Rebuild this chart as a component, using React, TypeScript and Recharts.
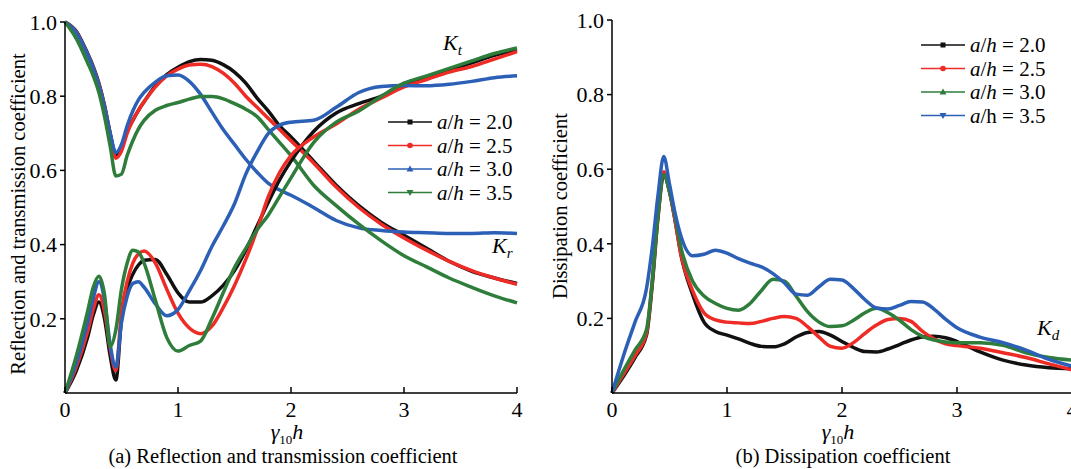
import React from "react";
import { LineChart, Line, XAxis, YAxis } from "recharts";

const FONT = '"Liberation Serif", "Times New Roman", serif';
const BLACK = "#111111";
const RED = "#ee2b25";
const BLUE = "#2c5fb6";
const GREEN = "#2e7d3b";

// (a) reflection / transmission, gamma_10 h
const X_A = [0, 0.1, 0.2, 0.25, 0.3, 0.35, 0.4, 0.45, 0.5, 0.55, 0.6, 0.65, 0.7, 0.8, 0.9, 1.0, 1.1, 1.2, 1.3, 1.4, 1.5, 1.6, 1.7, 1.8, 1.9, 2.0, 2.2, 2.4, 2.6, 2.8, 3.0, 3.2, 3.4, 3.6, 3.8, 4.0];

// curves starting from 1
const KT_20 = [1.0, 0.975, 0.915, 0.88, 0.835, 0.775, 0.7, 0.64, 0.66, 0.705, 0.735, 0.762, 0.785, 0.828, 0.858, 0.878, 0.893, 0.899, 0.897, 0.885, 0.865, 0.835, 0.795, 0.76, 0.72, 0.69, 0.625, 0.56, 0.505, 0.46, 0.425, 0.39, 0.355, 0.328, 0.31, 0.295];
const KT_25 = [1.0, 0.973, 0.912, 0.877, 0.832, 0.772, 0.695, 0.633, 0.652, 0.7, 0.735, 0.762, 0.785, 0.825, 0.855, 0.873, 0.884, 0.886, 0.88, 0.862, 0.835, 0.8, 0.77, 0.74, 0.71, 0.68, 0.62, 0.555, 0.5, 0.455, 0.418, 0.385, 0.355, 0.33, 0.31, 0.293];
const KT_30 = [1.0, 0.972, 0.912, 0.876, 0.83, 0.77, 0.7, 0.648, 0.67, 0.72, 0.76, 0.79, 0.81, 0.838, 0.855, 0.857, 0.84, 0.805, 0.757, 0.71, 0.67, 0.63, 0.595, 0.565, 0.547, 0.533, 0.5, 0.465, 0.445, 0.438, 0.434, 0.432, 0.43, 0.43, 0.432, 0.43];
const KT_35 = [1.0, 0.955, 0.89, 0.855, 0.81, 0.745, 0.665, 0.585, 0.59, 0.64, 0.68, 0.712, 0.735, 0.762, 0.775, 0.783, 0.792, 0.799, 0.799, 0.793, 0.78, 0.765, 0.745, 0.71, 0.675, 0.64, 0.56, 0.505, 0.455, 0.41, 0.37, 0.34, 0.31, 0.285, 0.262, 0.243];

// curves starting from 0
const KR_20 = [0, 0.06, 0.15, 0.21, 0.245, 0.2, 0.1, 0.035, 0.2, 0.28, 0.32, 0.345, 0.358, 0.36, 0.32, 0.27, 0.245, 0.245, 0.262, 0.29, 0.33, 0.385, 0.45, 0.515, 0.575, 0.625, 0.705, 0.755, 0.78, 0.8, 0.83, 0.85, 0.87, 0.89, 0.91, 0.925];
const KR_25 = [0, 0.07, 0.165, 0.225, 0.265, 0.22, 0.12, 0.06, 0.22, 0.3, 0.35, 0.375, 0.383, 0.35, 0.28, 0.215, 0.175, 0.16, 0.18, 0.23, 0.29, 0.36, 0.44, 0.53, 0.595, 0.64, 0.69, 0.725, 0.765, 0.795, 0.825, 0.845, 0.865, 0.88, 0.9, 0.92];
const KR_30 = [0, 0.08, 0.19, 0.255, 0.3, 0.25, 0.13, 0.07, 0.19, 0.26, 0.295, 0.3, 0.285, 0.24, 0.208, 0.225, 0.275, 0.33, 0.395, 0.45, 0.51, 0.59, 0.65, 0.7, 0.722, 0.73, 0.735, 0.77, 0.81, 0.826, 0.829, 0.828, 0.832, 0.84, 0.85, 0.855];
const KR_35 = [0, 0.1, 0.22, 0.285, 0.315, 0.265, 0.125, 0.17, 0.28, 0.35, 0.385, 0.38, 0.35, 0.25, 0.15, 0.113, 0.128, 0.14, 0.2, 0.27, 0.338, 0.39, 0.44, 0.48, 0.53, 0.58, 0.675, 0.73, 0.76, 0.8, 0.835, 0.855, 0.875, 0.895, 0.915, 0.93];

// (b) dissipation
const X_B = [0, 0.1, 0.2, 0.3, 0.35, 0.4, 0.45, 0.5, 0.55, 0.6, 0.7, 0.8, 0.9, 1.0, 1.1, 1.2, 1.3, 1.4, 1.5, 1.6, 1.7, 1.8, 1.9, 2.0, 2.1, 2.2, 2.3, 2.4, 2.5, 2.6, 2.7, 2.8, 2.9, 3.0, 3.2, 3.4, 3.6, 3.8, 4.0];
const KD_20 = [0, 0.045, 0.095, 0.155, 0.29, 0.47, 0.585, 0.54, 0.46, 0.37, 0.265, 0.19, 0.165, 0.155, 0.145, 0.133, 0.125, 0.124, 0.132, 0.15, 0.162, 0.165, 0.155, 0.138, 0.122, 0.111, 0.11, 0.118, 0.13, 0.142, 0.15, 0.152, 0.148, 0.138, 0.11, 0.088, 0.075, 0.068, 0.065];
const KD_25 = [0, 0.05, 0.1, 0.16, 0.3, 0.48, 0.593, 0.54, 0.46, 0.37, 0.275, 0.215, 0.196, 0.19, 0.188, 0.186, 0.192, 0.2, 0.205, 0.2, 0.178, 0.15, 0.125, 0.12, 0.135, 0.16, 0.182, 0.197, 0.2, 0.192, 0.165, 0.145, 0.132, 0.127, 0.12, 0.108, 0.095, 0.078, 0.062];
const KD_30 = [0, 0.06, 0.115, 0.17, 0.3, 0.48, 0.585, 0.54, 0.47, 0.39, 0.3, 0.26, 0.24, 0.227, 0.222, 0.24, 0.275, 0.305, 0.3, 0.26, 0.218, 0.19, 0.178, 0.18, 0.195, 0.215, 0.227, 0.215, 0.195, 0.17, 0.152, 0.142, 0.137, 0.135, 0.135, 0.128, 0.108, 0.095, 0.088];
const KD_35 = [0, 0.1, 0.19, 0.28, 0.39, 0.53, 0.634, 0.56, 0.48, 0.42, 0.368, 0.372, 0.383, 0.375, 0.36, 0.348, 0.338, 0.32, 0.295, 0.265, 0.262, 0.285, 0.305, 0.303, 0.28, 0.25, 0.228, 0.225, 0.235, 0.245, 0.244, 0.225, 0.198, 0.175, 0.15, 0.135, 0.115, 0.09, 0.072];

const X_TICKS = [0, 1, 2, 3, 4];
const Y_TICKS = [0.2, 0.4, 0.6, 0.8, 1.0];

const dataA = X_A.map((x, i) => ({
  x,
  t20: KT_20[i], t25: KT_25[i], t30: KT_30[i], t35: KT_35[i],
  r20: KR_20[i], r25: KR_25[i], r30: KR_30[i], r35: KR_35[i],
}));
const dataB = X_B.map((x, i) => ({ x, d20: KD_20[i], d25: KD_25[i], d30: KD_30[i], d35: KD_35[i] }));

const axisStyle = { stroke: "#000", strokeWidth: 1.5 };
const tickStyle = { fill: "#000", fontSize: 22, fontFamily: FONT };

const linesA = [
  { k: "20", c: BLACK },
  { k: "25", c: RED },
  { k: "30", c: BLUE },
  { k: "35", c: GREEN },
];
const linesB = [
  { k: "d20", c: BLACK },
  { k: "d25", c: RED },
  { k: "d30", c: GREEN },
  { k: "d35", c: BLUE },
];

const Marker = ({ shape, x, y, c }: { shape: string; x: number; y: number; c: string }) => {
  if (shape === "square") return <rect x={x - 2.5} y={y - 2.5} width={5} height={5} fill={c} />;
  if (shape === "circle") return <circle cx={x} cy={y} r={2.8} fill={c} />;
  if (shape === "up") return <polygon points={`${x},${y - 3.5} ${x - 3.5},${y + 2.5} ${x + 3.5},${y + 2.5}`} fill={c} />;
  return <polygon points={`${x},${y + 3.5} ${x - 3.5},${y - 2.5} ${x + 3.5},${y - 2.5}`} fill={c} />;
};

const Legend = ({ x, y, items }: { x: number; y: number; items: { c: string; shape: string; v: string; hUp?: boolean }[] }) => (
  <g>
    {items.map((it, i) => (
      <g key={i}>
        <line x1={x} x2={x + 44} y1={y + i * 23.5} y2={y + i * 23.5} stroke={it.c} strokeWidth={1.6} />
        <Marker shape={it.shape} x={x + 22} y={y + i * 23.5} c={it.c} />
        <text x={x + 49} y={y + i * 23.5 + 7} fontSize={21} fontFamily={FONT} fill="#000">
          <tspan fontStyle="italic">a</tspan>
          <tspan>/</tspan>
          <tspan fontStyle={it.hUp ? "normal" : "italic"}>h</tspan>
          <tspan>{` = ${it.v}`}</tspan>
        </text>
      </g>
    ))}
  </g>
);

const GammaLabel = ({ cx, y }: { cx: number; y: number }) => (
  <text x={cx} y={y} textAnchor="middle" fontSize={22} fontFamily={FONT} fill="#000">
    <tspan fontStyle="italic">γ</tspan>
    <tspan fontSize={13} dy={5}>10</tspan>
    <tspan fontStyle="italic" dy={-5}>h</tspan>
  </text>
);

const KLabel = ({ x, y, sub }: { x: number; y: number; sub: string }) => (
  <text x={x} y={y} fontSize={22} fontFamily={FONT} fontStyle="italic" fill="#000">
    K<tspan fontSize={15} dy={5}>{sub}</tspan>
  </text>
);

export default function App() {
  return (
    <div style={{ position: "absolute", left: 0, top: 0, width: 1071, height: 469, overflow: "hidden", background: "#fff" }}>
      <div style={{ position: "absolute", left: 0, top: 0 }}>
        <LineChart width={540} height={469} data={dataA} margin={{ top: 22, right: 23, bottom: 46, left: 5 }}>
          <XAxis
            dataKey="x" type="number" domain={[0, 4]} ticks={X_TICKS} height={30}
            axisLine={axisStyle} tickLine={axisStyle} tick={tickStyle} tickSize={-6} tickMargin={14}
          />
          <YAxis
            type="number" domain={[0, 1]} ticks={Y_TICKS} width={60}
            tickFormatter={(v: number) => v.toFixed(1)}
            axisLine={axisStyle} tickLine={axisStyle} tick={tickStyle} tickSize={5} tickMargin={3}
          />
          {linesA.map((l) => (
            <Line key={"t" + l.k} type="monotone" dataKey={"t" + l.k} stroke={l.c} strokeWidth={3.5} dot={false} isAnimationActive={false} />
          ))}
          {linesA.map((l) => (
            <Line key={"r" + l.k} type="monotone" dataKey={"r" + l.k} stroke={l.c} strokeWidth={3.5} dot={false} isAnimationActive={false} />
          ))}
        </LineChart>
      </div>
      <div style={{ position: "absolute", left: 540, top: 0 }}>
        <LineChart width={545} height={469} data={dataB} margin={{ top: 20, right: 13, bottom: 46, left: 12 }}>
          <XAxis
            dataKey="x" type="number" domain={[0, 4]} ticks={X_TICKS} height={30}
            axisLine={axisStyle} tickLine={axisStyle} tick={tickStyle} tickSize={-6} tickMargin={14}
          />
          <YAxis
            type="number" domain={[0, 1]} ticks={Y_TICKS} width={60}
            tickFormatter={(v: number) => v.toFixed(1)}
            axisLine={axisStyle} tickLine={axisStyle} tick={tickStyle} tickSize={5} tickMargin={3}
          />
          {linesB.map((l) => (
            <Line key={l.k} type="monotone" dataKey={l.k} stroke={l.c} strokeWidth={3.5} dot={false} isAnimationActive={false} />
          ))}
        </LineChart>
      </div>
      <svg width={1071} height={469} style={{ position: "absolute", left: 0, top: 0, pointerEvents: "none" }}>
        <text transform="translate(25,214) rotate(-90)" textAnchor="middle" fontSize={20.5} fontFamily={FONT} fill="#000">
          Reflection and transmission coefficient
        </text>
        <text transform="translate(567,206) rotate(-90)" textAnchor="middle" fontSize={20.5} fontFamily={FONT} fill="#000">
          Dissipation coefficient
        </text>
        <GammaLabel cx={287} y={439} />
        <GammaLabel cx={838} y={439} />
        <text x={283} y={463} textAnchor="middle" fontSize={20.5} fontFamily={FONT} fill="#000">
          (a) Reflection and transmission coefficient
        </text>
        <text x={843} y={463} textAnchor="middle" fontSize={20.5} fontFamily={FONT} fill="#000">
          (b) Dissipation coefficient
        </text>
        <KLabel x={443} y={50} sub="t" />
        <KLabel x={492} y={253} sub="r" />
        <KLabel x={1037} y={335} sub="d" />
        <Legend
          x={388} y={122}
          items={[
            { c: BLACK, shape: "square", v: "2.0" },
            { c: RED, shape: "circle", v: "2.5" },
            { c: BLUE, shape: "up", v: "3.0" },
            { c: GREEN, shape: "down", v: "3.5" },
          ]}
        />
        <Legend
          x={921} y={45}
          items={[
            { c: BLACK, shape: "square", v: "2.0" },
            { c: RED, shape: "circle", v: "2.5" },
            { c: GREEN, shape: "up", v: "3.0" },
            { c: BLUE, shape: "down", v: "3.5", hUp: true },
          ]}
        />
      </svg>
    </div>
  );
}
